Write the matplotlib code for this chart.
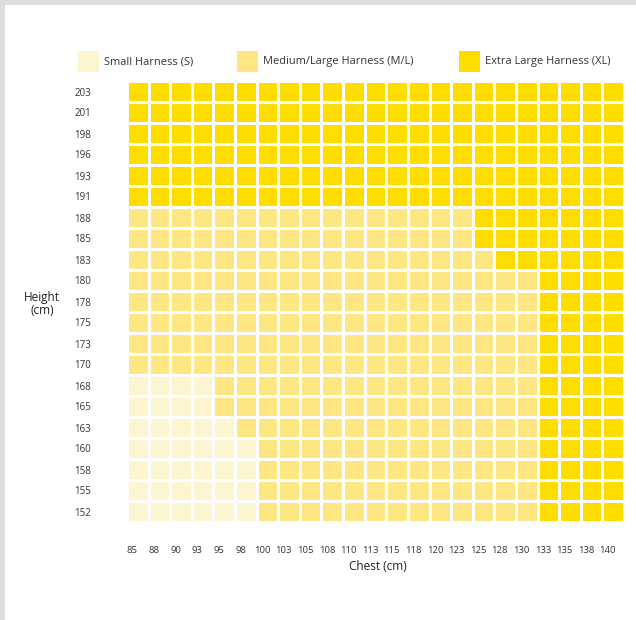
import numpy as np
import matplotlib
matplotlib.use('Agg')
import matplotlib.pyplot as plt
from matplotlib.colors import ListedColormap
from matplotlib.patches import Rectangle

plt.rcParams['font.family'] = ['Open Sans', 'DejaVu Sans']

chest = [85, 88, 90, 93, 95, 98, 100, 103, 105, 108, 110, 113,
         115, 118, 120, 123, 125, 128, 130, 133, 135, 138, 140]
heights = [152, 155, 158, 160, 163, 165, 168, 170, 173, 175, 178,
           180, 183, 185, 188, 191, 193, 196, 198, 201, 203]
# last chest size that still fits S, per height (None = no S)
small_upto = [98, 98, 98, 98, 95, 93, 93, None, None, None, None,
              None, None, None, None, None, None, None, None, None, None]
# first chest size that needs XL, per height
xl_from = [133, 133, 133, 133, 133, 133, 133, 133, 133, 133, 133,
           133, 128, 125, 125, 85, 85, 85, 85, 85, 85]
sizes = ['Small Harness (S)', 'Medium/Large Harness (M/L)', 'Extra Large Harness (XL)']
colors = ['#FDF5CF', '#FEE683', '#FFDD00']

grid = np.ones((len(heights), len(chest)))
for r, h in enumerate(heights):
    for c, ch in enumerate(chest):
        if ch >= xl_from[r]:
            grid[r, c] = 2
        elif small_upto[r] is not None and ch <= small_upto[r]:
            grid[r, c] = 0

W, H = 636, 620
fig = plt.figure(figsize=(W / 100, H / 100), dpi=100, facecolor='#DCDDDF')
fig.patches.append(Rectangle((5 / W, 0), 1, 1 - 5 / H, transform=fig.transFigure,
                             facecolor='white', edgecolor='none', zorder=-5))

ax = fig.add_axes([127 / W, (H - 522) / H, 497 / W, 441 / H])
ax.set_zorder(2)
ax.patch.set_alpha(0)
ax.pcolormesh(grid, cmap=ListedColormap(colors), vmin=-0.5, vmax=2.5,
              edgecolors='white', linewidth=0.9)
ax.set_xlim(0, len(chest))
ax.set_ylim(0, len(heights))
for s in ax.spines.values():
    s.set_visible(False)

ax.set_xticks(np.arange(len(chest)) + 0.25)
ax.set_xticklabels([str(c) for c in chest], fontsize=6.8, color='#333333')
ax.set_yticks(np.arange(len(heights)) + 0.5)
ax.set_yticklabels([str(h) for h in heights], fontsize=7, color='#333333')
ax.tick_params(axis='x', length=0, pad=17)
ax.tick_params(axis='y', length=0, pad=26)

fig.text(378 / W, 1 - 566 / H, 'Chest (cm)', ha='center', va='center',
         fontsize=8.5, color='#222222')
fig.text(42 / W, 1 - 304 / H, 'Height\n(cm)', ha='center', va='center',
         fontsize=8.5, color='#222222', linespacing=1.0)

# legend row
leg_x = [78, 237, 459]
for x, lab, col in zip(leg_x, sizes, colors):
    fig.patches.append(Rectangle((x / W, 1 - 72 / H), 21 / W, 21 / H,
                                 transform=fig.transFigure, facecolor=col,
                                 edgecolor='none'))
    fig.text((x + 26) / W, 1 - 61.5 / H, lab, ha='left', va='center',
             fontsize=7.9, color='#333333')

fig.savefig('out.png', dpi=100, facecolor=fig.get_facecolor())
